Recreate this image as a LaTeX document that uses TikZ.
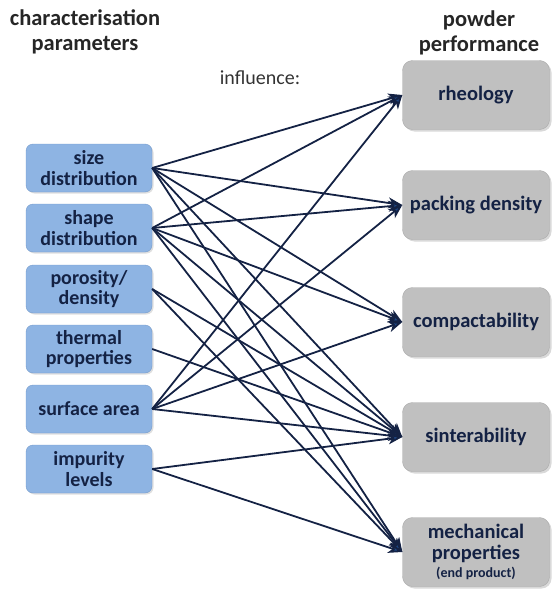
\documentclass[tikz,border=0pt]{standalone}
\usepackage{fontspec}
\setmainfont{Carlito}
\usetikzlibrary{arrows.meta,shadows}

\definecolor{parblue}{RGB}{142,180,227}
\definecolor{parline}{RGB}{118,156,204}
\definecolor{perfgray}{RGB}{192,192,192}
\definecolor{perfline}{RGB}{170,170,170}
\definecolor{navy}{RGB}{20,34,68}
\definecolor{tipblue}{RGB}{30,72,135}

\tikzset{
  param/.style={rectangle, rounded corners=7pt, fill=parblue, draw=parline,
    minimum width=126pt, minimum height=48pt, align=center, text=navy,
    inner sep=2pt, font=\fontsize{20}{20.5}\selectfont\bfseries,
    drop shadow={opacity=0.25, shadow xshift=1.5pt, shadow yshift=-1.5pt}},
  perf/.style={rectangle, rounded corners=10pt, fill=perfgray, draw=perfline,
    minimum width=147pt, minimum height=69pt, align=center, text=navy,
    inner sep=2pt, font=\fontsize{20.5}{22}\selectfont\bfseries,
    drop shadow={opacity=0.3, shadow xshift=2pt, shadow yshift=-2pt}},
  title/.style={align=center, font=\fontsize{22.5}{25}\selectfont\bfseries, text=black!85},
  infl/.style={draw=navy, line width=1.8pt,
    -{Stealth[length=14pt,width=11pt,inset=4pt,fill=tipblue]}},
}

\begin{document}
\begin{tikzpicture}[x=1pt,y=-1pt]
  \useasboundingbox (0,0) rectangle (552,589);

  % headings
  \node[title] (lhead) at (85,32) {characterisation\\parameters};
  \node[title] (rhead) at (479,33) {powder\\performance};
  \node[font=\fontsize{20}{22}\selectfont, text=black!80] (infl) at (260,78) {influence:};

  % characterisation parameters
  \node[param] (size) at (89,168) {size\\distribution};
  \node[param] (shape) at (89,228) {shape\\distribution};
  \node[param] (poro) at (89,289) {porosity/\\density};
  \node[param] (therm) at (89,349) {thermal\\properties};
  \node[param] (surf) at (89,409) {surface area};
  \node[param] (impur) at (89,469) {impurity\\levels};

  % powder performance
  \node[perf] (rheo) at (476,95) {rheology};
  \node[perf] (pack) at (476,205) {packing density};
  \node[perf] (compact) at (476,322) {compactability};
  \node[perf] (sinter) at (476,437) {sinterability};
  \node[perf] (mech) at (476,552) {mechanical\\[-1pt]properties\\[-4pt]{\fontsize{14}{15}\selectfont (end product)}};

  % influences
  \foreach \src/\dst in {size/rheo, size/pack, size/compact, size/sinter, size/mech,
      shape/rheo, shape/pack, shape/compact, shape/sinter, shape/mech,
      poro/sinter, poro/mech, therm/sinter,
      surf/rheo, surf/pack, surf/compact, surf/sinter,
      impur/sinter, impur/mech}
    \draw[infl] (\src.east) -- (\dst.west);
\end{tikzpicture}
\end{document}
